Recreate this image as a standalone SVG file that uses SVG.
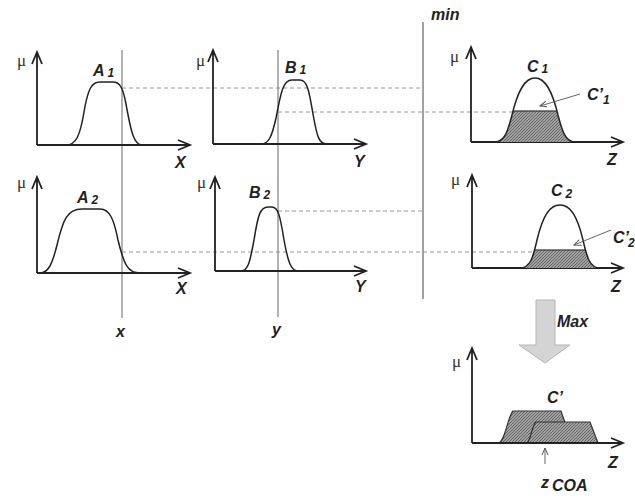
<svg xmlns="http://www.w3.org/2000/svg" width="635" height="499" viewBox="0 0 635 499">
<style>
.ax{fill:none;stroke:#222;stroke-width:1.8;stroke-linejoin:miter}
.cv{fill:none;stroke:#222;stroke-width:1.5}
.dash{stroke:#8a8a8a;stroke-width:0.9;stroke-dasharray:4 3;fill:none}
.thin{stroke:#555;stroke-width:0.9;fill:none}
.lb{font-family:"Liberation Sans",Arial,sans-serif;font-weight:bold;font-style:italic;font-size:16px;fill:#222}
.sb{font-size:12px}
.mu{font-family:"Liberation Serif","Times New Roman",serif;font-size:17px;fill:#333}
.sh{fill:url(#hatch);stroke:#333;stroke-width:1.2}
</style>
<defs>
<pattern id="hatch" patternUnits="userSpaceOnUse" width="3" height="3">
<rect width="3" height="3" fill="#a0a0a0"/>
<path d="M0,3 L3,0" stroke="#5a5a5a" stroke-width="0.8"/>
</pattern>
<marker id="ah" markerWidth="8" markerHeight="8" refX="7" refY="4" orient="auto" markerUnits="userSpaceOnUse">
<path d="M0,1 L7,4 L0,7" fill="none" stroke="#555" stroke-width="1"/>
</marker>
<clipPath id="c1"><path d="M495,142 C505,142 508,130 512,115 C518,90 525,78 535,78 C545,78 552,90 558,115 C562,130 565,142 575,142 Z"/></clipPath>
<clipPath id="c2"><path d="M520,268 C530,268 533,258 537,240 C543,215 550,205 560,205 C570,205 577,215 583,240 C587,258 590,268 600,268 Z"/></clipPath>
</defs>

<g id="connectors">
<line class="thin" x1="122" y1="50" x2="122" y2="318"/>
<line class="thin" x1="278" y1="50" x2="278" y2="317"/>
<line x1="423" y1="22" x2="423" y2="299" stroke="#444" stroke-width="1"/>
<line class="dash" x1="122" y1="88" x2="422" y2="88"/>
<line class="dash" x1="278" y1="112" x2="512" y2="112"/>
<line class="dash" x1="122" y1="252" x2="537" y2="252"/>
<line class="dash" x1="278" y1="211" x2="422" y2="211"/>
<text class="lb" x="431" y="20" font-size="15">min</text>
<text class="lb" x="116" y="337" font-size="15">x</text>
<text class="lb" x="272" y="335" font-size="15">y</text>
</g>

<g id="A1">
<path class="ax" d="M37,145 V52 M32,64 L37,52 L42,64 M37,145 H190 M178,140 L190,145 L178,150"/>
<text class="mu" x="17" y="66">μ</text>
<path class="cv" d="M66,145 C76,145 80,136 84,112 C88,88 92,82 100,82 L113,82 C120,82 123,88 126,104 C131,132 134,145 142,145"/>
<text class="lb" x="93" y="76">A<tspan class="sb" dx="3" dy="1">1</tspan></text>
<text class="lb" x="175" y="168">X</text>
</g>

<g id="B1">
<path class="ax" d="M213,144 V50 M208,62 L213,50 L218,62 M213,144 H366 M354,139 L366,144 L354,149"/>
<text class="mu" x="196" y="66">μ</text>
<path class="cv" d="M261,144 C269,144 272,136 276,118 C281,92 283,80 292,80 L300,80 C307,80 309,90 313,114 C317,137 319,144 327,144"/>
<text class="lb" x="285" y="73">B<tspan class="sb" dx="3" dy="1">1</tspan></text>
<text class="lb" x="354" y="167">Y</text>
</g>

<g id="C1">
<path class="ax" d="M471,142 V47 M466,59 L471,47 L476,59 M471,142 H623 M611,137 L623,142 L611,147"/>
<text class="mu" x="450" y="62">μ</text>
<rect x="490" y="111" width="90" height="32" class="sh" clip-path="url(#c1)"/>
<path class="cv" d="M495,142 C505,142 508,130 512,115 C518,90 525,78 535,78 C545,78 552,90 558,115 C562,130 565,142 575,142"/>
<text class="lb" x="527" y="72">C<tspan class="sb" dx="3" dy="1">1</tspan></text>
<line class="thin" x1="580" y1="94" x2="540" y2="106" marker-end="url(#ah)"/>
<text class="lb" x="587" y="100">C’<tspan class="sb" dx="0" dy="4">1</tspan></text>
<text class="lb" x="607" y="165">Z</text>
</g>

<g id="A2">
<path class="ax" d="M37,273 V177 M32,189 L37,177 L42,189 M37,273 H190 M178,268 L190,273 L178,278"/>
<text class="mu" x="17" y="188">μ</text>
<path class="cv" d="M40,273 C48,273 52,265 57,245 C63,220 67,209 82,209 L100,209 C110,209 114,220 118,240 C124,265 128,273 140,273"/>
<text class="lb" x="77" y="203">A<tspan class="sb" dx="3" dy="1">2</tspan></text>
<text class="lb" x="176" y="294">X</text>
</g>

<g id="B2">
<path class="ax" d="M215,271 V177 M210,189 L215,177 L220,189 M215,271 H366 M354,266 L366,271 L354,276"/>
<text class="mu" x="197" y="188">μ</text>
<path class="cv" d="M241,271 C248,271 250,262 254,240 C258,215 260,207 268,207 L272,207 C278,207 280,215 284,240 C288,262 291,271 298,271"/>
<text class="lb" x="249" y="198">B<tspan class="sb" dx="3" dy="1">2</tspan></text>
<text class="lb" x="355" y="292">Y</text>
</g>

<g id="C2">
<path class="ax" d="M472,268 V175 M467,187 L472,175 L477,187 M472,268 H623 M611,263 L623,268 L611,273"/>
<text class="mu" x="451" y="185">μ</text>
<rect x="515" y="250" width="90" height="19" class="sh" clip-path="url(#c2)"/>
<path class="cv" d="M520,268 C530,268 533,258 537,240 C543,215 550,205 560,205 C570,205 577,215 583,240 C587,258 590,268 600,268"/>
<text class="lb" x="551" y="196">C<tspan class="sb" dx="3" dy="2">2</tspan></text>
<line class="thin" x1="611" y1="230" x2="574" y2="245" marker-end="url(#ah)"/>
<text class="lb" x="613" y="243" font-size="15">C’<tspan class="sb" font-size="11" dx="-1" dy="4">2</tspan></text>
<text class="lb" x="611" y="292">Z</text>
</g>

<g id="max">
<path d="M536,300 H555 V345 H570 L545,363 L519,345 H536 Z" fill="#d4d4d4" stroke="#b5b5b5" stroke-width="1"/>
<text class="lb" x="557" y="327">Max</text>
</g>

<g id="Cprime">
<path class="ax" d="M472,443 V348 M467,360 L472,348 L477,360 M472,443 H623 M611,438 L623,443 L611,448"/>
<text class="mu" x="452" y="367">μ</text>
<path class="sh" d="M498,443 C505,443 507,418 513,411 L561,411 L572,443 Z"/>
<path class="sh" d="M527,443 C531,440 532,425 536,422 L590,422 L598,443 Z"/>
<line class="ax" x1="472" y1="443" x2="612" y2="443"/>
<text class="lb" x="547" y="403">C’</text>
<line class="thin" x1="545" y1="464" x2="545" y2="448" marker-end="url(#ah)"/>
<text class="lb" x="608" y="468">Z</text>
<text class="lb" x="541" y="488" font-style="normal" font-weight="normal" font-size="16">z<tspan class="lb" font-size="11" dx="3" dy="3">COA</tspan></text>
</g>
</svg>
